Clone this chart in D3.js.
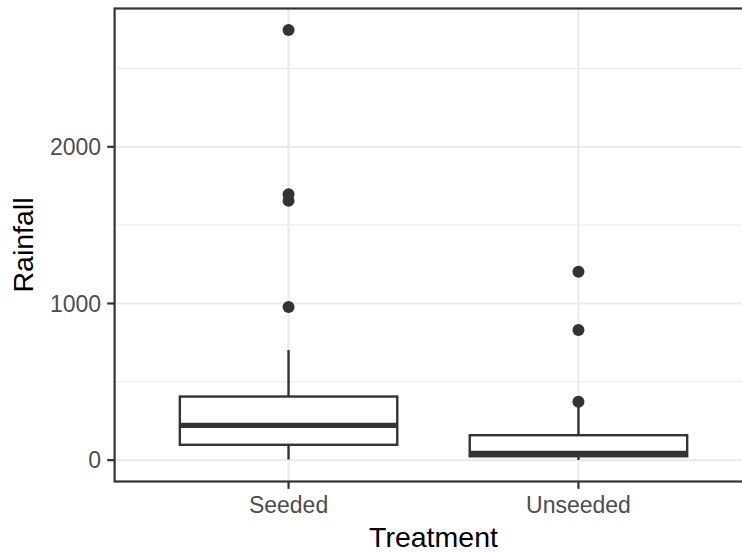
<!DOCTYPE html>
<html>
<head>
<meta charset="utf-8">
<script src="https://cdn.jsdelivr.net/npm/d3@7"></script>
<style>
  body { margin: 0; background: #fff; }
  text { font-family: "Liberation Sans", Arial, Helvetica, sans-serif; }
</style>
</head>
<body>
<svg id="chart"></svg>
<script>
// rainfall per treatment (cloud seeding experiment)
let treatments = ['Seeded', 'Unseeded']
let seeded = [2745.6, 1697.8, 1656.0, 978.0, 703.4, 489.1, 430.0, 334.1, 302.8, 274.7, 274.7, 255.0, 242.5,
  200.7, 198.6, 129.6, 119.0, 118.3, 115.3, 92.4, 40.6, 32.7, 31.4, 17.5, 7.7, 4.1]
let unseeded = [1202.6, 830.1, 372.4, 345.5, 321.2, 244.3, 163.0, 147.8, 95.0, 87.0, 81.2, 68.5, 47.3,
  41.1, 36.6, 29.0, 28.6, 26.3, 26.1, 24.4, 21.7, 17.3, 11.5, 4.9, 4.9, 1.0]
let majorTicks = [0, 1000, 2000]
let minorTicks = [500, 1500, 2500]

let width = 742
let height = 552

// panel edges; right edge runs past the picture like the reference
let panel = { left: 114.6, right: 752.4, top: 8.5, bottom: 481.5 }

let svg = d3.select('#chart')
  .attr('width', width)
  .attr('height', height)

let groups = [seeded, unseeded]

// box stats the same way ggplot does (R type 7 quantiles)
let stats = groups.map((values, i) => {
  const sorted = values.slice().sort(d3.ascending)
  const q1 = d3.quantile(sorted, 0.25)
  const med = d3.quantile(sorted, 0.5)
  const q3 = d3.quantile(sorted, 0.75)
  const iqr = q3 - q1
  const inside = sorted.filter(v => v >= q1 - 1.5 * iqr && v <= q3 + 1.5 * iqr)
  return {
    name: treatments[i],
    q1, med, q3,
    lo: d3.min(inside),
    hi: d3.max(inside),
    outliers: sorted.filter(v => v < q1 - 1.5 * iqr || v > q3 + 1.5 * iqr)
  }
})

let allValues = seeded.concat(unseeded)
let [vmin, vmax] = d3.extent(allValues)
let pad = (vmax - vmin) * 0.05

let y = d3.scaleLinear()
  .domain([vmin - pad, vmax + pad])
  .range([panel.bottom, panel.top])

let x = d3.scalePoint()
  .domain(treatments)
  .range([panel.left, panel.right])
  .padding(0.6)

let boxWidth = x.step() * 0.75

// grid
let grid = svg.append('g')
grid.selectAll('.minor').data(minorTicks).enter().append('line')
  .attr('x1', panel.left).attr('x2', panel.right)
  .attr('y1', d => y(d)).attr('y2', d => y(d))
  .attr('stroke', '#ebebeb').attr('stroke-width', 1.2)
grid.selectAll('.major').data(majorTicks).enter().append('line')
  .attr('x1', panel.left).attr('x2', panel.right)
  .attr('y1', d => y(d)).attr('y2', d => y(d))
  .attr('stroke', '#ebebeb').attr('stroke-width', 2.2)
grid.selectAll('.vmajor').data(treatments).enter().append('line')
  .attr('x1', d => x(d)).attr('x2', d => x(d))
  .attr('y1', panel.top).attr('y2', panel.bottom)
  .attr('stroke', '#ebebeb').attr('stroke-width', 2.2)

// boxes
let ink = '#333333'
let boxes = svg.append('g').selectAll('g').data(stats).enter().append('g')

boxes.append('line')
  .attr('x1', d => x(d.name)).attr('x2', d => x(d.name))
  .attr('y1', d => y(d.q3)).attr('y2', d => y(d.hi))
  .attr('stroke', ink).attr('stroke-width', 2.4)
boxes.append('line')
  .attr('x1', d => x(d.name)).attr('x2', d => x(d.name))
  .attr('y1', d => y(d.q1)).attr('y2', d => y(d.lo))
  .attr('stroke', ink).attr('stroke-width', 2.4)
boxes.append('rect')
  .attr('x', d => x(d.name) - boxWidth / 2)
  .attr('width', boxWidth)
  .attr('y', d => y(d.q3))
  .attr('height', d => y(d.q1) - y(d.q3))
  .attr('fill', '#fff').attr('stroke', ink).attr('stroke-width', 2.4)
boxes.append('line')
  .attr('x1', d => x(d.name) - boxWidth / 2).attr('x2', d => x(d.name) + boxWidth / 2)
  .attr('y1', d => y(d.med)).attr('y2', d => y(d.med))
  .attr('stroke', ink).attr('stroke-width', 5.2)
boxes.selectAll('circle').data(d => d.outliers.map(v => ({ name: d.name, v }))).enter().append('circle')
  .attr('cx', d => x(d.name))
  .attr('cy', d => y(d.v))
  .attr('r', 6)
  .attr('fill', ink)

// panel border
svg.append('rect')
  .attr('x', panel.left).attr('y', panel.top)
  .attr('width', panel.right - panel.left).attr('height', panel.bottom - panel.top)
  .attr('fill', 'none').attr('stroke', ink).attr('stroke-width', 2.2)

// y axis
let yAxis = svg.append('g')
yAxis.selectAll('line').data(majorTicks).enter().append('line')
  .attr('x1', panel.left - 7.4).attr('x2', panel.left)
  .attr('y1', d => y(d)).attr('y2', d => y(d))
  .attr('stroke', ink).attr('stroke-width', 2.2)
yAxis.selectAll('text').data(majorTicks).enter().append('text')
  .attr('x', panel.left - 13.5)
  .attr('y', d => y(d))
  .attr('dy', '0.36em')
  .attr('text-anchor', 'end')
  .attr('font-size', 23)
  .attr('fill', '#4d4d4d')
  .text(d => d)

// x axis
let xAxis = svg.append('g')
xAxis.selectAll('line').data(treatments).enter().append('line')
  .attr('x1', d => x(d)).attr('x2', d => x(d))
  .attr('y1', panel.bottom).attr('y2', panel.bottom + 7.4)
  .attr('stroke', ink).attr('stroke-width', 2.2)
xAxis.selectAll('text').data(treatments).enter().append('text')
  .attr('x', d => x(d))
  .attr('y', 513)
  .attr('text-anchor', 'middle')
  .attr('font-size', 23)
  .attr('fill', '#4d4d4d')
  .text(d => d)

// titles
svg.append('text')
  .attr('x', (panel.left + panel.right) / 2)
  .attr('y', 546.7)
  .attr('text-anchor', 'middle')
  .attr('font-size', 28.5)
  .attr('fill', '#000')
  .text('Treatment')

svg.append('text')
  .attr('transform', `translate(33,${(panel.top + panel.bottom) / 2}) rotate(-90)`)
  .attr('text-anchor', 'middle')
  .attr('font-size', 28.5)
  .attr('fill', '#000')
  .text('Rainfall')
</script>
</body>
</html>
